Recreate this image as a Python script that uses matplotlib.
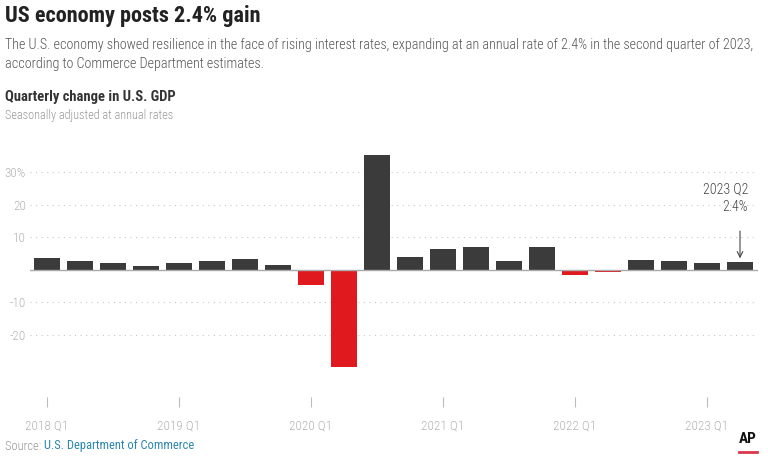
import matplotlib.pyplot as plt

plt.rcParams['font.family'] = ['Roboto Condensed', 'Barlow Semi Condensed',
                               'Liberation Sans', 'DejaVu Sans']

# data
quarters = ['2018 Q1', '2018 Q2', '2018 Q3', '2018 Q4',
            '2019 Q1', '2019 Q2', '2019 Q3', '2019 Q4',
            '2020 Q1', '2020 Q2', '2020 Q3', '2020 Q4',
            '2021 Q1', '2021 Q2', '2021 Q3', '2021 Q4',
            '2022 Q1', '2022 Q2', '2022 Q3', '2022 Q4',
            '2023 Q1', '2023 Q2']
gdp_change = [3.6, 2.6, 2.1, 1.3,
              2.1, 2.6, 3.4, 1.6,
              -4.6, -29.9, 35.3, 3.9,
              6.3, 7.0, 2.7, 7.0,
              -1.7, -0.6, 3.2, 2.6,
              2.0, 2.4]
y_ticks = [30, 20, 10, -10, -20]
y_labels = ['30%', '20', '10', '-10', '-20']
x_tick_labels = ['2018 Q1', '2019 Q1', '2020 Q1', '2021 Q1', '2022 Q1', '2023 Q1']

dark = '#3b3b3b'
red = '#e0191e'
light = '#b4b4b4'

fig = plt.figure(figsize=(7.68, 4.68), dpi=100)
W, H = 768, 468

# header texts
fig.text(5 / W, 1 - 16 / H, 'US economy posts 2.4% gain', fontsize=16,
         fontweight='bold', color='#222222', va='center')
fig.text(5 / W, 1 - 45 / H,
         'The U.S. economy showed resilience in the face of rising interest rates, '
         'expanding at an annual rate of 2.4% in the second quarter of 2023,',
         fontsize=10.2, fontweight='light', color='#555555', va='center')
fig.text(5 / W, 1 - 64 / H, 'according to Commerce Department estimates.',
         fontsize=10.2, fontweight='light', color='#555555', va='center')
fig.text(5 / W, 1 - 97 / H, 'Quarterly change in U.S. GDP', fontsize=10.5,
         fontweight='bold', color='#333333', va='center')
fig.text(5 / W, 1 - 115 / H, 'Seasonally adjusted at annual rates', fontsize=8.8,
         fontweight='light', color='#999999', va='center')

# plot area
ax = fig.add_axes([30 / W, (H - 397) / H, 728 / W, (397 - 150) / H])
x = list(range(len(quarters)))
colors = [dark if v >= 0 else red for v in gdp_change]
ax.bar(x, gdp_change, width=0.79, color=colors, zorder=3)

ax.set_xlim(-0.515, 21.545)
ax.set_ylim(-39.1, 36.9)

for t in y_ticks:
    ax.axhline(t, color='#c8c8c8', lw=0.8, ls=(0, (1, 4)), zorder=1)
ax.axhline(0, color='#aaaaaa', lw=1, zorder=4)

ax.set_yticks(y_ticks)
ax.set_yticklabels(y_labels)
ax.tick_params(axis='y', length=0, pad=3, labelsize=9.5, labelcolor=light)
for lab in ax.get_yticklabels():
    lab.set_fontweight('light')

xt = [quarters.index(q) for q in x_tick_labels]
ax.set_xticks(xt)
ax.set_xticklabels(x_tick_labels)
ax.tick_params(axis='x', length=7, width=0.8, color='#bbbbbb', pad=9,
               labelsize=9.5, labelcolor=light)
for lab in ax.get_xticklabels():
    lab.set_fontweight('light')

for s in ax.spines.values():
    s.set_visible(False)

# annotation for latest quarter
last = len(quarters) - 1
ax.text(last + 0.24, 27.0, '2023 Q2\n2.4%', ha='right', va='top',
        fontsize=10, fontweight='light', color='#444444', linespacing=1.35)
ax.annotate('', xy=(last, gdp_change[last] + 0.3), xytext=(last, 12.8),
            arrowprops=dict(arrowstyle='->', color='#444444', lw=0.8))

# footer
t1 = fig.text(5 / W, 1 - 446 / H, 'Source: ', fontsize=9, fontweight='light',
              color='#999999', va='center')
fig.canvas.draw()
bb = t1.get_window_extent()
fig.text(bb.x1 / W, 1 - 446 / H, 'U.S. Department of Commerce', fontsize=9,
         color='#2b86b0', va='center')
fig.text(748 / W, 1 - 439 / H, 'AP', fontsize=11, fontweight='bold',
         color='#111111', ha='center', va='center')
fig.add_artist(plt.Line2D([739 / W, 757 / W], [1 - 452 / H, 1 - 452 / H],
                          color='#d9384a', lw=2))

fig.savefig('out.png', dpi=100)
